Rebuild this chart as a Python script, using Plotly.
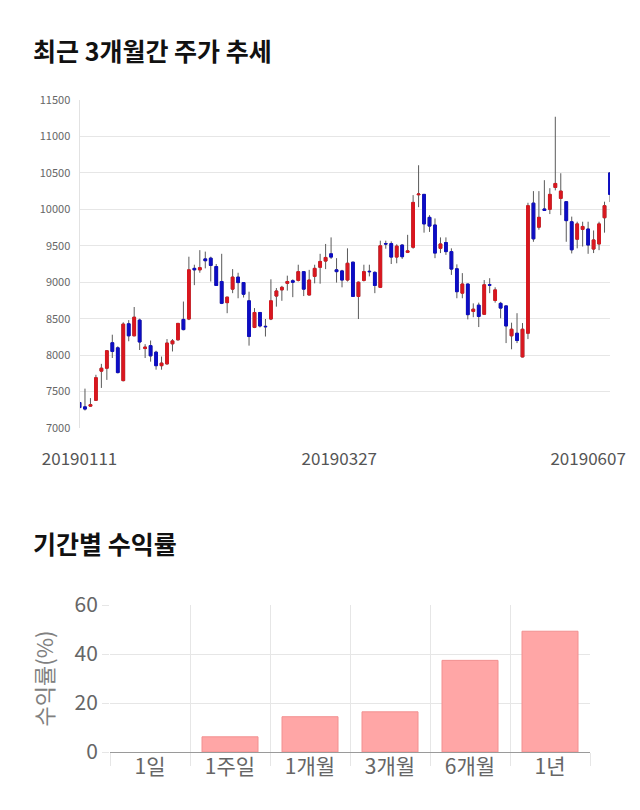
import plotly.graph_objects as go

# ---------------- data ----------------
tick_labels = ["20190111", "20190327", "20190607"]
tick_positions = [0, 47.5, 93]

opens = [7350, 7290, 7300, 7380, 7780, 7820, 8170, 8100, 7650, 8430,
         8265, 8480, 8090, 8130, 8040, 7855, 7880, 8155, 8210, 8490,
         8495, 9190, 9170, 9320, 9330, 9215, 9010, 8720, 8905, 9070,
         8995, 8745, 8380, 8585, 8395, 8495, 8810, 8895, 8985, 9020,
         9025, 9145, 8825, 9080, 9205, 9290, 9390, 9170, 9155, 9030,
         9275, 8805, 9025, 9150, 9135, 8930, 9530, 9530, 9345, 9510,
         9410, 9480, 10200, 10205, 9890, 9785, 9465, 9545, 9420, 9185,
         8850, 8975, 8600, 8685, 8560, 8965, 8750, 8710, 8675, 8265,
         8300, 7975, 8300, 10085, 9755, 10005, 10000, 10300, 10150, 10105,
         9830, 9590, 9725, 9730, 9455, 9525, 9885, 10500]
highs = [7360, 7540, 7410, 7730, 7880, 8070, 8280, 8120, 8450, 8480,
         8660, 8500, 8150, 8200, 8060, 7980, 8220, 8220, 8440, 8735,
         9350, 9240, 9440, 9420, 9350, 9250, 9390, 8800, 9180, 9130,
         9000, 8870, 8645, 8590, 8495, 9040, 8920, 8950, 9090, 9040,
         9240, 9150, 9170, 9240, 9390, 9525, 9615, 9330, 9170, 9465,
         9280, 9010, 9240, 9240, 9150, 9570, 9570, 9560, 9520, 9520,
         9650, 10195, 10605, 10210, 9920, 9875, 9615, 9615, 9465, 9245,
         9125, 8980, 8710, 8720, 9030, 9055, 8930, 8730, 8680, 8445,
         8575, 8440, 10090, 10250, 10250, 10400, 10290, 11270, 10495, 10110,
         9900, 9830, 9830, 9830, 9710, 9830, 10105, 10510]
lows = [7220, 7240, 7290, 7370, 7550, 7660, 7960, 7750, 7640, 8190,
        8260, 8070, 7960, 7910, 7800, 7800, 7870, 8050, 8200, 8340,
        8480, 8960, 9130, 9190, 9010, 8950, 8700, 8575, 8850, 8780,
        8790, 8130, 8370, 8380, 8255, 8480, 8665, 8745, 8885, 8795,
        9010, 8810, 8820, 8985, 8980, 9180, 9320, 8995, 8930, 9010,
        8800, 8495, 9010, 9080, 8850, 8920, 9460, 9250, 9260, 9320,
        9400, 9460, 10030, 9680, 9690, 9330, 9400, 9375, 9100, 8780,
        8780, 8490, 8520, 8385, 8550, 8850, 8720, 8505, 8165, 8080,
        8165, 7970, 8220, 9555, 9720, 9980, 9935, 10260, 9920, 9555,
        9395, 9465, 9490, 9390, 9400, 9440, 9680, 10100]
closes = [7280, 7260, 7320, 7690, 7820, 8060, 8050, 7760, 8425, 8265,
          8520, 8180, 8110, 7990, 7855, 7890, 8165, 8195, 8435, 8350,
          9170, 9170, 9200, 9295, 9230, 8955, 8710, 8795, 9070, 8995,
          8835, 8255, 8585, 8400, 8390, 8745, 8880, 8930, 9010, 9000,
          9145, 8905, 9030, 9190, 9285, 9340, 9345, 9145, 9030, 9260,
          8805, 9000, 9145, 9145, 8955, 9500, 9525, 9345, 9495, 9350,
          9430, 10095, 10210, 9800, 9770, 9400, 9525, 9420, 9180, 8870,
          8975, 8555, 8630, 8530, 8965, 8960, 8895, 8645, 8400, 8355,
          8200, 8355, 10050, 9595, 9890, 9985, 10205, 10355, 10250, 9845,
          9445, 9800, 9765, 9510, 9580, 9800, 10050, 10205]

periods = ["1일", "1주일", "1개월", "3개월", "6개월", "1년"]
returns = [0.0, 6.2, 14.4, 16.4, 37.4, 49.3]

title_top = "최근 3개월간 주가 추세"
title_bottom = "기간별 수익률"
y2_title = "수익률(%)"

# ---------------- styling ----------------
W, H = 640, 810
FONT = "Noto Sans CJK KR"
UP = "#d9171f"
DOWN = "#0d0dc4"
WICK = "#5a5a5a"
GRID = "#e6e6e6"

n = len(opens)
assert len(highs) == n and len(lows) == n and len(closes) == n
xs = list(range(n))
body_hi = [max(o, c) for o, c in zip(opens, closes)]
body_lo = [min(o, c) for o, c in zip(opens, closes)]
bar_line_w = [1 if v != 0 else 0 for v in returns]


def px_x(p):
    return p / W


def px_y(p):
    return 1 - p / H


fig = go.Figure()

# wicks (grey)
fig.add_trace(go.Candlestick(
    x=xs, open=opens, high=highs, low=lows, close=closes,
    increasing=dict(line=dict(color=WICK, width=1), fillcolor="rgba(0,0,0,0)"),
    decreasing=dict(line=dict(color=WICK, width=1), fillcolor="rgba(0,0,0,0)"),
    whiskerwidth=0, hoverinfo="skip", showlegend=False,
    xaxis="x", yaxis="y"))
# bodies (coloured)
fig.add_trace(go.Candlestick(
    x=xs, open=opens, high=body_hi, low=body_lo, close=closes,
    increasing=dict(line=dict(color=UP, width=1), fillcolor=UP),
    decreasing=dict(line=dict(color=DOWN, width=1), fillcolor=DOWN),
    whiskerwidth=0, hoverinfo="skip", showlegend=False,
    xaxis="x", yaxis="y"))

fig.add_trace(go.Bar(
    x=periods, y=returns, width=0.7,
    marker=dict(color="#ffa6a6", line=dict(color="#f29090", width=bar_line_w)),
    hoverinfo="skip", showlegend=False,
    xaxis="x2", yaxis="y2"))

fig.update_layout(
    width=W, height=H,
    margin=dict(l=0, r=0, t=0, b=0, autoexpand=False),
    paper_bgcolor="white", plot_bgcolor="white",
    font=dict(family=FONT, color="#666"),
    boxgap=0.28,
    xaxis=dict(
        domain=[px_x(79.5), px_x(610)], anchor="y", automargin=False,
        range=[0, n - 1], rangeslider=dict(visible=False),
        tickmode="array", tickvals=tick_positions, ticktext=tick_labels,
        tickfont=dict(size=17, color="#555"),
        ticks="outside", ticklen=16, tickcolor="rgba(0,0,0,0)",
        showgrid=False, zeroline=False, showline=False, fixedrange=True),
    yaxis=dict(
        domain=[px_y(428), px_y(100)], anchor="x", automargin=False,
        range=[7000, 11500], dtick=500, tick0=7000, tickformat="d",
        tickfont=dict(size=11, color="#666"),
        ticks="outside", ticklen=6, tickcolor="rgba(0,0,0,0)",
        showgrid=True, gridcolor=GRID, gridwidth=1,
        showline=True, linecolor="#e2e2e2", linewidth=1,
        zeroline=False, fixedrange=True),
    xaxis2=dict(
        domain=[px_x(110), px_x(590)], anchor="y2", automargin=False,
        type="category", tickson="boundaries",
        tickfont=dict(size=21, color="#666"),
        ticks="outside", ticklen=13, tickcolor=GRID,
        showgrid=True, gridcolor=GRID, showline=False, zeroline=False),
    yaxis2=dict(
        domain=[px_y(752), px_y(605)], anchor="x2", automargin=False,
        range=[0, 60], dtick=20, tick0=0,
        tickfont=dict(size=21, color="#666"),
        ticks="outside", ticklen=7, tickcolor=GRID,
        showgrid=True, gridcolor=GRID,
        zeroline=True, zerolinecolor="#9a9a9a", zerolinewidth=1,
        showline=False,
        title=dict(text=y2_title, font=dict(size=22, color="#808080"), standoff=14)),
    annotations=[
        dict(text="<b>" + title_top + "</b>", xref="paper", yref="paper",
             x=px_x(31), y=px_y(50), xanchor="left", yanchor="middle",
             showarrow=False, font=dict(size=25, color="#111", family=FONT)),
        dict(text="<b>" + title_bottom + "</b>", xref="paper", yref="paper",
             x=px_x(31), y=px_y(543), xanchor="left", yanchor="middle",
             showarrow=False, font=dict(size=25, color="#111", family=FONT)),
    ],
)

fig.write_html("out.html")
